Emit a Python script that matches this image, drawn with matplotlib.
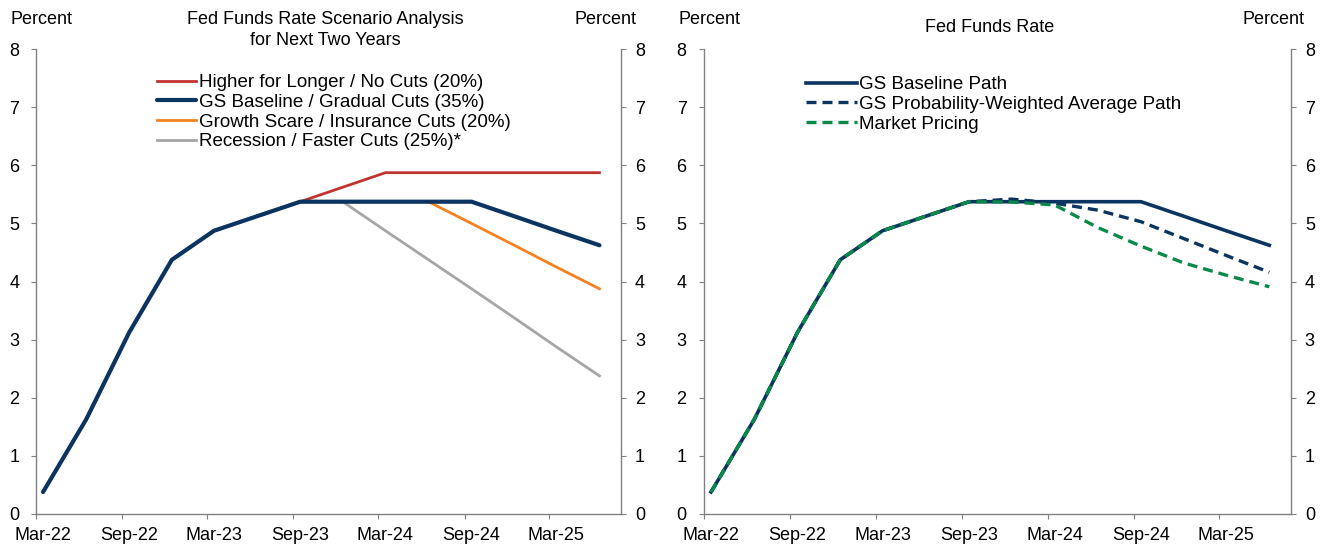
import pandas as pd
import matplotlib
matplotlib.use('Agg')
import matplotlib.pyplot as plt
import matplotlib.dates as mdates
import matplotlib.transforms as mtransforms

plt.rcParams['font.family'] = ['Liberation Sans', 'DejaVu Sans']
plt.rcParams['font.size'] = 13

# quarterly observations, Mar-22 .. Jun-25
quarters = ['Mar-22', 'Jun-22', 'Sep-22', 'Dec-22', 'Mar-23', 'Jun-23', 'Sep-23',
            'Dec-23', 'Mar-24', 'Jun-24', 'Sep-24', 'Dec-24', 'Mar-25', 'Jun-25']
dates = pd.to_datetime(quarters, format='%b-%y') + pd.Timedelta(days=15)

# left panel scenarios
higher_longer = [0.375, 1.625, 3.125, 4.375, 4.875, 5.125, 5.375,
                 5.625, 5.875, 5.875, 5.875, 5.875, 5.875, 5.875]
gs_baseline = [0.375, 1.625, 3.125, 4.375, 4.875, 5.125, 5.375,
               5.375, 5.375, 5.375, 5.375, 5.125, 4.875, 4.625]
growth_scare = [0.375, 1.625, 3.125, 4.375, 4.875, 5.125, 5.375,
                5.375, 5.375, 5.375, 5.0, 4.625, 4.25, 3.875]
recession = [0.375, 1.625, 3.125, 4.375, 4.875, 5.125, 5.375,
             5.375, 4.875, 4.375, 3.875, 3.375, 2.875, 2.375]

# right panel
prob_weighted = [0.375, 1.625, 3.125, 4.375, 4.875, 5.125, 5.375,
                 5.42, 5.35, 5.23, 5.03, 4.74, 4.45, 4.16]
market_pricing = [0.375, 1.625, 3.125, 4.375, 4.875, 5.125, 5.375,
                  5.37, 5.32, 4.93, 4.61, 4.32, 4.11, 3.91]

left_labels = ['Higher for Longer / No Cuts (20%)', 'GS Baseline / Gradual Cuts (35%)',
               'Growth Scare / Insurance Cuts (20%)', 'Recession / Faster Cuts (25%)*']
right_labels = ['GS Baseline Path', 'GS Probability-Weighted Average Path', 'Market Pricing']

navy = '#0b3560'
red = '#c0332f'
orange = '#f58220'
gray = '#a6a6a6'
green = '#0a8a48'

fig = plt.figure(figsize=(13.25, 5.46), dpi=100)
ax1 = fig.add_axes([0.0272, 0.0590, 0.4415, 0.8507])
ax2 = fig.add_axes([0.5313, 0.0590, 0.443, 0.8507])


def style(ax, left_pad):
    ax.set_ylim(0, 8)
    ax.set_xlim(pd.Timestamp('2022-03-01'), pd.Timestamp('2025-08-01'))
    ax.set_xticks(pd.date_range('2022-03-01', '2025-03-01', freq='6MS'))
    ax.xaxis.set_major_formatter(mdates.DateFormatter('%b-%y'))
    ax.set_yticks(range(0, 9))
    ax.spines['top'].set_visible(False)
    for s in ['left', 'right', 'bottom']:
        ax.spines[s].set_color('#808080')
        ax.spines[s].set_linewidth(1.0)
    ax.tick_params(axis='both', direction='out', length=3.5, color='#808080',
                   labelsize=13, labelcolor='black')
    ax.tick_params(axis='y', right=True, labelright=True, pad=left_pad)
    ax.tick_params(axis='x', pad=6)


style(ax1, 8.5)
ax1.plot(dates, higher_longer, color=red, lw=2.0, label=left_labels[0], zorder=2)
ax1.plot(dates, growth_scare, color=orange, lw=2.0, label=left_labels[2], zorder=2)
ax1.plot(dates, recession, color=gray, lw=2.0, label=left_labels[3], zorder=2)
ax1.plot(dates, gs_baseline, color=navy, lw=3.0, label=left_labels[1], zorder=3,
         solid_capstyle='round')
h, l = ax1.get_legend_handles_labels()
order = [0, 3, 1, 2]
ax1.legend([h[i] for i in order], [l[i] for i in order], loc='upper left',
           bbox_to_anchor=(157 / 1325, 1 - 74 / 546), bbox_transform=fig.transFigure,
           frameon=False, fontsize=13.5, handlelength=2.1, handletextpad=0.15,
           labelspacing=0.14, borderpad=0, borderaxespad=0)

style(ax2, 9)
ax2.plot(dates, gs_baseline, color=navy, lw=2.6, label=right_labels[0], zorder=2)
ax2.plot(dates, prob_weighted, color=navy, lw=2.4, ls=(0, (3, 1.8)),
         label=right_labels[1], zorder=3)
ax2.plot(dates, market_pricing, color=green, lw=2.4, ls=(0, (3, 1.8)),
         label=right_labels[2], zorder=4)
ax2.legend(loc='upper left', bbox_to_anchor=(806 / 1325, 1 - 76 / 546),
           bbox_transform=fig.transFigure, frameon=False, fontsize=13.5,
           handlelength=2.7, handletextpad=0.15, labelspacing=0.14,
           borderpad=0, borderaxespad=0)

fig.text(10 / 1325, 1 - 19 / 546, 'Percent', ha='left', va='center', fontsize=13)
fig.text(637 / 1325, 1 - 19 / 546, 'Percent', ha='right', va='center', fontsize=13)
fig.text(678 / 1325, 1 - 19 / 546, 'Percent', ha='left', va='center', fontsize=13)
fig.text(1304 / 1325, 1 - 19 / 546, 'Percent', ha='right', va='center', fontsize=13)
fig.text(325 / 1325, 1 - 30 / 546, 'Fed Funds Rate Scenario Analysis\nfor Next Two Years',
         ha='center', va='center', fontsize=13, linespacing=1.3)
fig.text(990 / 1325, 1 - 28 / 546, 'Fed Funds Rate', ha='center', va='center', fontsize=13)

# right-hand labels sit closer to the spine; date labels sit half a month right of the tick
fig.canvas.draw()
for ax, lp in [(ax1, 8.5), (ax2, 9)]:
    shift_y = mtransforms.ScaledTranslation((6.5 - lp) / 72, 0, fig.dpi_scale_trans)
    for t in ax.yaxis.get_major_ticks():
        t.label2.set_transform(t.label2.get_transform() + shift_y)
    shift_x = mtransforms.ScaledTranslation(5 / 72, 0, fig.dpi_scale_trans)
    for t in ax.xaxis.get_major_ticks():
        t.label1.set_transform(t.label1.get_transform() + shift_x)

fig.savefig('out.png', dpi=100)
